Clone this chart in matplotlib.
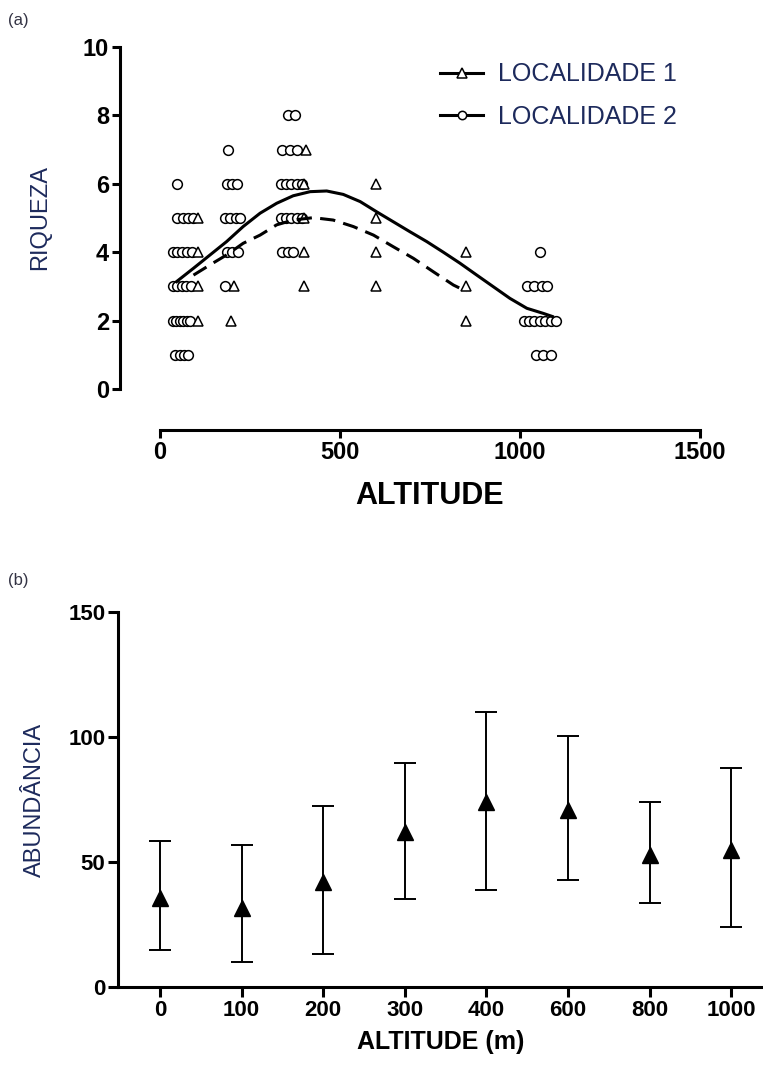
import matplotlib.pyplot as plt
from matplotlib.lines import Line2D

plt.rcParams['font.family'] = ['Liberation Sans', 'DejaVu Sans']
plt.rcParams['lines.scale_dashes'] = False

azul = '#1d2a5c'

# (a) riqueza x altitude
# localidade 2 (circulos)
loc2_alt = [42, 55, 66, 78,
            36, 45, 55, 65, 75, 83, 1010, 1025, 1040, 1055, 1070, 1085, 1100,
            36, 48, 60, 72, 85, 180, 1020, 1040, 1060, 1075,
            36, 48, 60, 75, 88, 186, 200, 217, 340, 355, 370, 1055,
            47, 64, 78, 92, 180, 195, 210, 222, 335, 350, 365, 380, 395,
            47, 185, 200, 215, 335, 350, 365, 380, 395,
            189, 340, 360, 380,
            355, 375,
            1045, 1065, 1085]
loc2_riq = [1, 1, 1, 1,
            2, 2, 2, 2, 2, 2, 2, 2, 2, 2, 2, 2, 2,
            3, 3, 3, 3, 3, 3, 3, 3, 3, 3,
            4, 4, 4, 4, 4, 4, 4, 4, 4, 4, 4, 4,
            5, 5, 5, 5, 5, 5, 5, 5, 5, 5, 5, 5, 5,
            6, 6, 6, 6, 6, 6, 6, 6, 6,
            7, 7, 7, 7,
            8, 8,
            1, 1, 1]

# localidade 1 (triangulos)
loc1_alt = [105, 105, 105, 105, 197, 205, 400, 400, 400, 400, 405,
            600, 600, 600, 600, 850, 850, 850]
loc1_riq = [2, 3, 4, 5, 2, 3, 3, 4, 5, 6, 7,
            3, 4, 5, 6, 2, 3, 4]

# curvas ajustadas
curva2_alt = [46, 93, 139, 185, 231, 278, 324, 370, 417, 463, 509, 556, 602, 648,
              694, 741, 787, 833, 880, 926, 972, 1019, 1065, 1090]
curva2_riq = [3.14, 3.53, 3.92, 4.31, 4.75, 5.14, 5.43, 5.65, 5.77, 5.79, 5.69, 5.48,
              5.18, 4.89, 4.6, 4.31, 4.0, 3.68, 3.33, 2.99, 2.65, 2.36, 2.21, 2.12]
curva1_alt = [93, 139, 185, 231, 278, 324, 370, 426, 481, 537, 593, 648, 704, 759,
              815, 852]
curva1_riq = [3.33, 3.63, 3.92, 4.26, 4.5, 4.8, 4.94, 5.01, 4.94, 4.75, 4.5, 4.16,
              3.82, 3.43, 3.04, 2.85]

# (b) abundancia x altitude
altitudes = ['0', '100', '200', '300', '400', '600', '800', '1000']
abund = [35.6, 31.6, 42, 62, 74, 70.8, 52.8, 54.8]
abund_sup = [58.4, 56.8, 72.4, 89.6, 110, 100.4, 74, 87.6]
abund_inf = [14.8, 10, 13.2, 35.2, 38.8, 42.8, 33.6, 24]

fig = plt.figure(figsize=(7.63, 10.75), dpi=100)

lw = 2.2
ax1 = fig.add_axes([160/763, 1-389/1075, 540/763, 342/1075])
ax1.plot(loc2_alt, loc2_riq, 'o', ms=7, mfc='white', mec='black', mew=1.1, zorder=2)
ax1.plot(loc1_alt, loc1_riq, '^', ms=7.5, mfc='white', mec='black', mew=1.1, zorder=2)
ax1.plot(curva2_alt, curva2_riq, '-', color='black', lw=lw, zorder=3)
ax1.plot(curva1_alt, curva1_riq, color='black', lw=lw, dashes=(11, 6), zorder=3)
ax1.set_xlim(0, 1500)
ax1.set_ylim(0, 10)
ax1.set_xticks([0, 500, 1000, 1500])
ax1.set_yticks([0, 2, 4, 6, 8, 10])
ax1.spines['top'].set_visible(False)
ax1.spines['right'].set_visible(False)
ax1.spines['left'].set_position(('outward', 28.8))
ax1.spines['bottom'].set_position(('outward', 29.5))
for s in ['left', 'bottom']:
    ax1.spines[s].set_linewidth(lw)
ax1.tick_params(width=lw, length=6, labelsize=17, pad=2)
for t in ax1.get_xticklabels() + ax1.get_yticklabels():
    t.set_fontweight('bold')
ax1.set_xlabel('ALTITUDE', fontsize=22, fontweight='bold', labelpad=12)
ax1.set_ylabel('RIQUEZA', fontsize=17, color=azul, labelpad=23)
ax1.patch.set_visible(False)

h1 = Line2D([], [], color='black', lw=lw, marker='^', ms=7, mfc='white', mec='black', mew=1.1)
h2 = Line2D([], [], color='black', lw=lw, marker='o', ms=6, mfc='white', mec='black', mew=1.1)
leg = ax1.legend([h1, h2], ['LOCALIDADE 1', 'LOCALIDADE 2'], loc='upper left',
                 bbox_to_anchor=(0.518, 0.955), frameon=False, fontsize=18,
                 handlelength=1.75, handletextpad=0.6, labelspacing=0.75, borderpad=0,
                 borderaxespad=0)
for t in leg.get_texts():
    t.set_color(azul)

fig.text(8/763, 1-20/1075, '(a)', fontsize=12, color='#333344', va='center')

# painel (b)
ax2 = fig.add_axes([118/763, 1-987/1075, 645/763, 375/1075])
x = list(range(len(altitudes)))
erro = [[a - i for a, i in zip(abund, abund_inf)], [s - a for a, s in zip(abund, abund_sup)]]
ax2.errorbar(x, abund, yerr=erro, fmt='^', color='black', ms=11, elinewidth=1.4,
             capsize=8, capthick=1.4, clip_on=False)
ax2.set_xlim(-0.515, 7.39)
ax2.set_ylim(0, 150)
ax2.set_xticks(x)
ax2.set_xticklabels(altitudes)
ax2.set_yticks([0, 50, 100, 150])
ax2.spines['top'].set_visible(False)
ax2.spines['right'].set_visible(False)
for s in ['left', 'bottom']:
    ax2.spines[s].set_linewidth(lw)
ax2.tick_params(width=lw, length=7, labelsize=16, pad=2)
for t in ax2.get_xticklabels() + ax2.get_yticklabels():
    t.set_fontweight('bold')
ax2.set_xlabel('ALTITUDE (m)', fontsize=18, fontweight='bold', labelpad=7)
ax2.set_ylabel('ABUNDÂNCIA', fontsize=17, color=azul, labelpad=16)

fig.text(8/763, 1-580/1075, '(b)', fontsize=12, color='#333344', va='center')

plt.savefig('out.png', dpi=100)
